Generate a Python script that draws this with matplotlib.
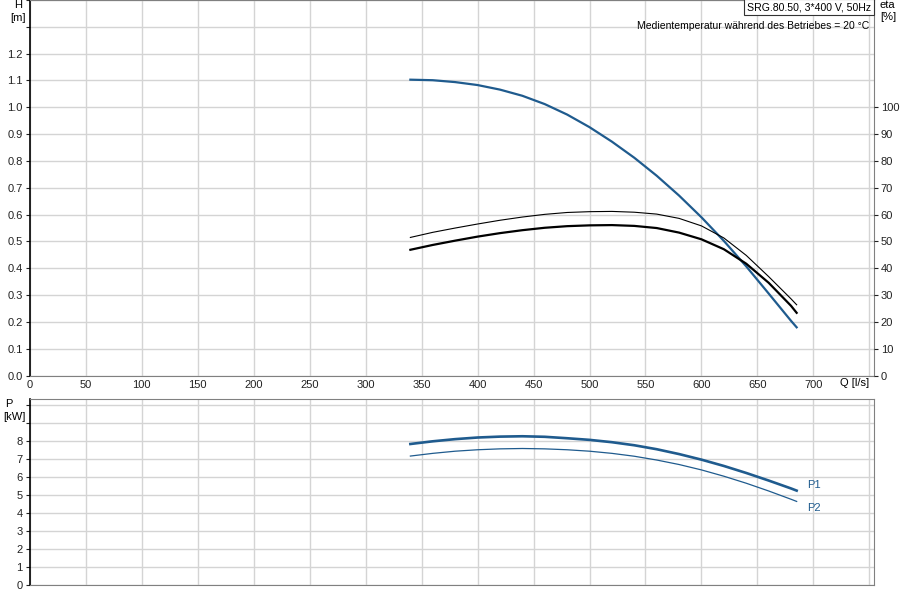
import numpy as np
from matplotlib import pyplot as plt

plt.rcParams["font.family"] = ["Liberation Sans", "DejaVu Sans"]
plt.rcParams["font.size"] = 8

# flow rate Q [l/s]
q = [340, 360, 380, 400, 420, 440, 460, 480, 500, 520, 540, 560, 580, 600, 620, 640, 660, 680, 685]
# head H [m]
head = [1.103, 1.101, 1.094, 1.083, 1.066, 1.043, 1.012, 0.973, 0.926, 0.872, 0.812,
        0.745, 0.671, 0.590, 0.502, 0.407, 0.306, 0.204, 0.180]
# efficiencies [%]
eta_thin = [51.5, 53.4, 55.0, 56.5, 57.9, 59.1, 60.1, 60.8, 61.1, 61.2, 60.9,
            60.2, 58.6, 55.8, 51.3, 44.8, 36.9, 28.6, 26.4]
eta_thick = [46.9, 48.7, 50.3, 51.8, 53.1, 54.2, 55.1, 55.7, 56.0, 56.1, 55.8,
             55.0, 53.3, 50.8, 47.1, 41.7, 34.6, 26.0, 23.4]
# power [kW]
p1 = [7.85, 8.00, 8.12, 8.21, 8.26, 8.28, 8.25, 8.17, 8.08, 7.95, 7.78,
      7.56, 7.29, 6.98, 6.63, 6.24, 5.82, 5.38, 5.26]
p2 = [7.18, 7.33, 7.45, 7.53, 7.58, 7.60, 7.58, 7.53, 7.45, 7.33, 7.17,
      6.96, 6.71, 6.41, 6.06, 5.67, 5.24, 4.78, 4.66]

blue = "#1f5b8e"
grid_col = "#d4d4d4"
x_max = 754

fig = plt.figure(figsize=(9, 6), dpi=100)
ax = fig.add_axes([0.033, 0.374, 0.938, 0.626])
ax2 = ax.twinx()
axp = fig.add_axes([0.033, 0.0245, 0.938, 0.3105])


def style(a):
    a.set_xlim(0, x_max)
    a.set_xticks(np.arange(0, 751, 50))
    a.grid(True, color=grid_col, linewidth=1.0)
    a.set_axisbelow(True)
    for s in ["top", "right", "bottom"]:
        a.spines[s].set_color("#808080")
    a.spines["left"].set_color("black")
    a.spines["left"].set_linewidth(1.2)
    a.tick_params(length=3, width=0.8, colors="#222222", pad=2)
    a.tick_params(axis="x", length=0, pad=3)


# top panel
style(ax)
ax.set_ylim(0, 1.4)
ax.set_yticks(np.arange(0, 1.41, 0.1))
ax.set_yticklabels(["%.1f" % v for v in np.arange(0, 1.21, 0.1)] + ["", ""])
ax.set_xticklabels([str(v) for v in range(0, 701, 50)] + [""])
ax.plot(q, head, color=blue, linewidth=1.6, zorder=3)

ax2.set_ylim(0, 140)
ax2.set_yticks(np.arange(0, 101, 10))
ax2.tick_params(length=3, width=0.8, colors="#222222", pad=2)
for s in ax2.spines.values():
    s.set_visible(False)
ax2.plot(q, eta_thin, color="black", linewidth=0.8)
ax2.plot(q, eta_thick, color="black", linewidth=1.6)

# bottom panel
style(axp)
axp.set_ylim(0, 10.35)
axp.set_yticks(np.arange(0, 11, 1))
axp.set_yticklabels([str(v) for v in range(0, 9)] + ["", ""])
axp.set_xticklabels([])
axp.plot(q, p1, color=blue, linewidth=1.9)
axp.plot(q, p2, color=blue, linewidth=0.9)
axp.text(q[-1] + 9, 5.57, "P1", color=blue, va="center", ha="left")
axp.text(q[-1] + 9, 4.3, "P2", color=blue, va="center", ha="left")

# labels
fig.text(14 / 900, 1 - 5 / 600, "H", ha="left", va="center")
fig.text(10 / 900, 1 - 18 / 600, "[m]", ha="left", va="center")
fig.text(880 / 900, 1 - 5 / 600, "eta", ha="left", va="center")
fig.text(880 / 900, 1 - 17 / 600, "[%]", ha="left", va="center")
fig.text(869 / 900, 1 - 383 / 600, "Q [l/s]", ha="right", va="center")
fig.text(5 / 900, 1 - 404 / 600, "P", ha="left", va="center")
fig.text(3 / 900, 1 - 417 / 600, "[kW]", ha="left", va="center")
fig.text(869 / 900, 1 - 26 / 600, "Medientemperatur während des Betriebes = 20 °C",
         ha="right", va="center", fontsize=7.5)
fig.text(871 / 900, 1 - 7 / 600, "SRG.80.50, 3*400 V, 50Hz", ha="right", va="center",
         fontsize=7.6,
         bbox=dict(boxstyle="square,pad=0.3", facecolor="white", edgecolor="#333333",
                   linewidth=0.8))

plt.savefig("out.png", dpi=100)
